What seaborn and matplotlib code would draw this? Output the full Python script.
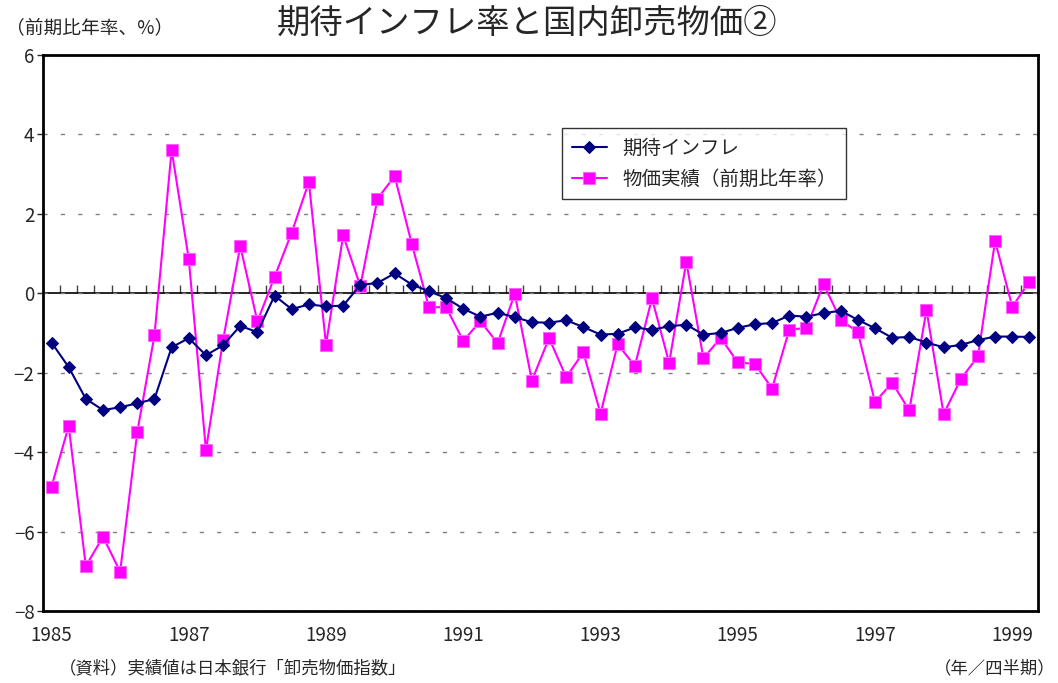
import numpy as np
import pandas as pd
import seaborn as sns
import matplotlib
matplotlib.use("Agg")
import matplotlib.pyplot as plt

# quarterly, 1985Q1 .. 1999Q2
years = list(range(1985, 2000))
quarters = [f"{y}Q{q}" for y in years for q in range(1, 5)][:58]
year_ticks = ["1985", "1987", "1989", "1991", "1993", "1995", "1997", "1999"]

expected_inflation = [
    -1.24, -1.86, -2.66, -2.94, -2.87, -2.77, -2.66, -1.36, -1.13, -1.56,
    -1.31, -0.82, -0.98, -0.06, -0.40, -0.28, -0.33, -0.31, 0.21, 0.26,
    0.50, 0.22, 0.05, -0.12, -0.39, -0.59, -0.49, -0.60, -0.73, -0.74,
    -0.68, -0.85, -1.04, -1.02, -0.86, -0.92, -0.83, -0.79, -1.04, -1.00,
    -0.87, -0.78, -0.75, -0.56, -0.59, -0.50, -0.44, -0.67, -0.88, -1.12,
    -1.10, -1.24, -1.36, -1.30, -1.18, -1.09, -1.09, -1.10,
]
wholesale_actual = [
    -4.87, -3.34, -6.87, -6.13, -7.01, -3.49, -1.06, 3.61, 0.86, -3.95,
    -1.18, 1.19, -0.71, 0.41, 1.53, 2.80, -1.29, 1.46, 0.18, 2.38,
    2.95, 1.24, -0.35, -0.35, -1.20, -0.70, -1.26, -0.01, -2.20, -1.13,
    -2.11, -1.49, -3.03, -1.28, -1.83, -0.13, -1.75, 0.79, -1.64, -1.12,
    -1.74, -1.78, -2.40, -0.92, -0.87, 0.23, -0.67, -0.98, -2.74, -2.25,
    -2.95, -0.42, -3.04, -2.16, -1.59, 1.32, -0.34, 0.29,
]

sns.set_style("white")
plt.rcParams["font.family"] = ["Noto Sans CJK JP", "DejaVu Sans"]

df = pd.DataFrame(
    {
        "quarter": quarters,
        "pos": np.arange(len(quarters)),
        "期待インフレ": expected_inflation,
        "物価実績（前期比年率）": wholesale_actual,
    }
)

fig = plt.figure(figsize=(10.58, 6.83), dpi=100)
ax = fig.add_axes([0.0406, 0.1054, 0.9405, 0.8141])

sns.lineplot(
    data=df, x="pos", y="期待インフレ", ax=ax, color="#000080", linewidth=1.5,
    marker="D", markersize=6, markeredgecolor="#000080", label="期待インフレ", zorder=4,
)
sns.lineplot(
    data=df, x="pos", y="物価実績（前期比年率）", ax=ax, color="#FF00FF", linewidth=1.5,
    marker="s", markersize=8, markeredgecolor="#FF66FF", label="物価実績（前期比年率）", zorder=3,
)

ax.set_xlim(-0.5, len(quarters) - 0.5)
ax.set_ylim(-8, 6)
ax.set_yticks(range(-8, 7, 2))
ax.set_xticks(range(0, len(quarters), 8))
ax.set_xticklabels(year_ticks)
ax.set_xlabel("")
ax.set_ylabel("")
ax.tick_params(axis="x", length=0, pad=10, labelsize=13.5)
ax.tick_params(axis="y", length=4, width=1, direction="out", labelsize=13.5, pad=2, left=True)
ax.grid(axis="y", linestyle=(0, (3, 9.5)), color="#808080", linewidth=1)
ax.grid(axis="x", visible=False)
for s in ax.spines.values():
    s.set_visible(True)
    s.set_color("black")
    s.set_linewidth(2)

# zero line with quarter boundary ticks
zero = ax.secondary_xaxis(0, transform=ax.transData)
zero.set_xticks(np.arange(0.5, len(quarters) - 1))
zero.tick_params(direction="in", length=6, width=1, colors="#404040", labelbottom=False)
zero.spines["bottom"].set_linewidth(1.2)
zero.spines["bottom"].set_color("black")

leg = ax.legend(
    loc="upper left", bbox_to_anchor=(0.5216, 0.8687), borderaxespad=0,
    fontsize=14, frameon=True, fancybox=False, handlelength=1.8,
    labelspacing=0.5, borderpad=0.5,
)
leg.get_frame().set_edgecolor("black")
leg.get_frame().set_linewidth(1)

fig.text(0.498, 0.966, "期待インフレ率と国内卸売物価②", ha="center", va="center", fontsize=24)
fig.text(0.006, 0.960, "（前期比年率、%）", ha="left", va="center", fontsize=13.5)
fig.text(0.056, 0.021, "（資料）実績値は日本銀行「卸売物価指数」", ha="left", va="center", fontsize=12.5)
fig.text(0.998, 0.021, "（年／四半期）", ha="right", va="center", fontsize=12.5)

fig.savefig("out.png", dpi=100)
